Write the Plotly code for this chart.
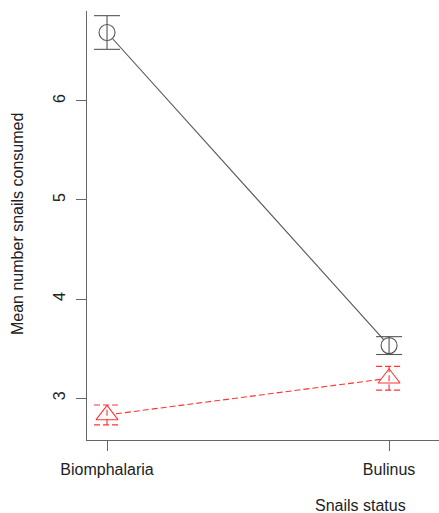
import plotly.graph_objects as go

categories = ["Biomphalaria", "Bulinus"]
x_pos = [1, 2]
series_names = ["Group A", "Group B"]
mean_a = [6.69, 3.53]
se_a = [0.17, 0.09]
mean_b = [2.83, 3.20]
se_b = [0.10, 0.12]
y_ticks = [3, 4, 5, 6]

W, H = 439, 513
L, R, T, B = 87, 0, 11, 73
xr = [0.929, 2.177]
yr = [2.577, 6.907]
cap_px = 13
cap = cap_px * (xr[1] - xr[0]) / (W - L - R)

FONT = "Liberation Sans, Arial, sans-serif"
COL_A = "#555555"
COL_B = "#ff3333"

fig = go.Figure()

def add_series(means, ses, color, dash, symbol, size, name):
    fig.add_trace(go.Scatter(x=x_pos, y=means, mode="lines",
                             line=dict(color=color, width=1.1, dash=dash),
                             showlegend=False, hoverinfo="skip"))
    fig.add_trace(go.Scatter(x=x_pos, y=means, mode="markers", name=name,
                             marker=dict(symbol=symbol, size=size, color="white",
                                         line=dict(color=color, width=1.1)),
                             showlegend=False))
    ex, ey = [], []
    for xv, m, s in zip(x_pos, means, ses):
        ex += [xv, xv, None, xv - cap, xv + cap, None, xv - cap, xv + cap, None]
        ey += [m - s, m + s, None, m + s, m + s, None, m - s, m - s, None]
    fig.add_trace(go.Scatter(x=ex, y=ey, mode="lines",
                             line=dict(color=color, width=1.1, dash=dash),
                             showlegend=False, hoverinfo="skip"))

add_series(mean_a, se_a, COL_A, "solid", "circle", 16, series_names[0])
add_series(mean_b, se_b, COL_B, "6px,3px", "triangle-up", 19, series_names[1])

axis_common = dict(showgrid=False, zeroline=False, showline=True, linecolor="#666666",
                   linewidth=1, ticks="outside", ticklen=10, tickcolor="#666666",
                   tickfont=dict(family=FONT, size=16, color="#222222"), mirror=False,
                   automargin=False)

fig.update_xaxes(range=xr, tickvals=x_pos, ticktext=categories, ticklabelstandoff=5,
                 **axis_common)
fig.update_yaxes(range=yr, tickvals=y_ticks, tickangle=-90, ticklabelstandoff=5,
                 **axis_common)

fig.add_annotation(text="Mean number snails consumed", xref="paper", yref="paper",
                   x=(18 - L) / (W - L - R), y=0.5 - (224 - (T + (H - T - B) / 2)) / (H - T - B),
                   xanchor="center", yanchor="middle", textangle=-90, showarrow=False,
                   font=dict(family=FONT, size=16, color="#222222"))
fig.add_annotation(text="Snails status", xref="paper", yref="paper",
                   x=(360 - L) / (W - L - R), y=-(505 - (H - B)) / (H - T - B),
                   xanchor="center", yanchor="middle", showarrow=False,
                   font=dict(family=FONT, size=16, color="#222222"))

fig.update_layout(width=W, height=H, margin=dict(l=L, r=R, t=T, b=B),
                  paper_bgcolor="white", plot_bgcolor="white", showlegend=False)

fig.write_html("out.html", config={"displayModeBar": False},
               post_script="document.body.style.margin='0';document.body.style.overflow='hidden';")
